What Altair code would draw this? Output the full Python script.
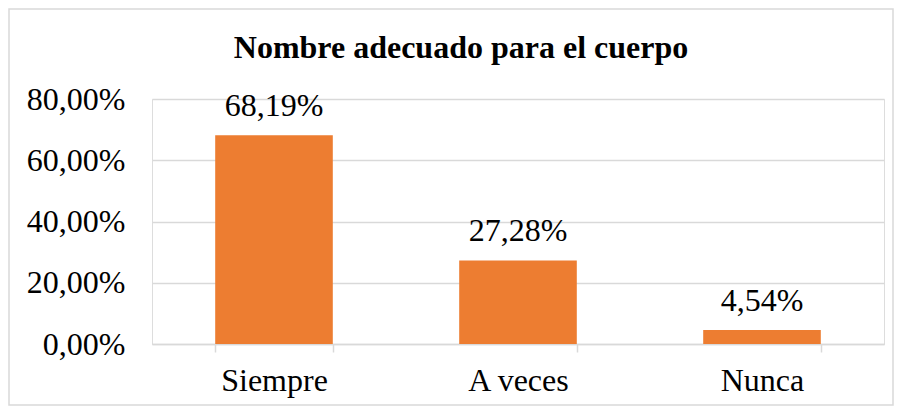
import altair as alt
import pandas as pd

categories = ["Siempre", "A veces", "Nunca"]
values = [68.19, 27.28, 4.54]
y_ticks = [0, 20, 40, 60, 80]

df = pd.DataFrame({"cat": categories, "v": values})

FONT = "Times New Roman, Liberation Serif, serif"
GRID = "#D9D9D9"

base = alt.Chart(df).encode(
    x=alt.X("cat:N", sort=categories, title=None,
            scale=alt.Scale(paddingInner=0.518, paddingOuter=0.259),
            axis=alt.Axis(labelAngle=0, labelFont=FONT, labelFontSize=32, labelColor="#000000",
                          domainColor=GRID, domainWidth=1.5, tickColor=GRID, tickWidth=1.5,
                          tickSize=8, tickBand="extent", labelPadding=13, grid=False)),
    y=alt.Y("v:Q", title=None,
            scale=alt.Scale(domain=[0, 80], nice=False),
            axis=alt.Axis(values=y_ticks, labelFont=FONT, labelFontSize=32, labelColor="#000000",
                          labelExpr="replace(format(datum.value, '.2f'), '.', ',') + '%'",
                          domain=False, ticks=False, tickSize=0, labelPadding=27,
                          grid=True, gridColor=GRID, gridWidth=1.5)),
)

bars = base.mark_bar(color="#ED7D31")

labels = base.transform_calculate(
    lab="replace(format(datum.v, '.2f'), '.', ',') + '%'"
).mark_text(font=FONT, fontSize=32, color="#000000", baseline="alphabetic", dy=-19).encode(
    text="lab:N"
)

frame = alt.Chart(pd.DataFrame({"a": [0]})).mark_rect(
    fill=None, stroke=GRID, strokeWidth=1.5
).encode(
    x=alt.value(-143), x2=alt.value(741), y=alt.value(-90), y2=alt.value(306)
)

chart = alt.layer(frame, bars, labels).properties(
    width=732, height=245,
    title=alt.TitleParams("Nombre adecuado para el cuerpo", font=FONT, fontSize=32,
                          fontWeight="bold", color="#000000", anchor="middle",
                          frame="group", dx=-57, baseline="alphabetic", offset=-82),
    autosize=alt.AutoSizeParams(type="none"),
    padding={"left": 144, "top": 91, "right": 11, "bottom": 63},
).configure_view(stroke=None).configure(background="#FFFFFF")

chart.save("out.html", embed_options={"renderer": "svg", "actions": False})
